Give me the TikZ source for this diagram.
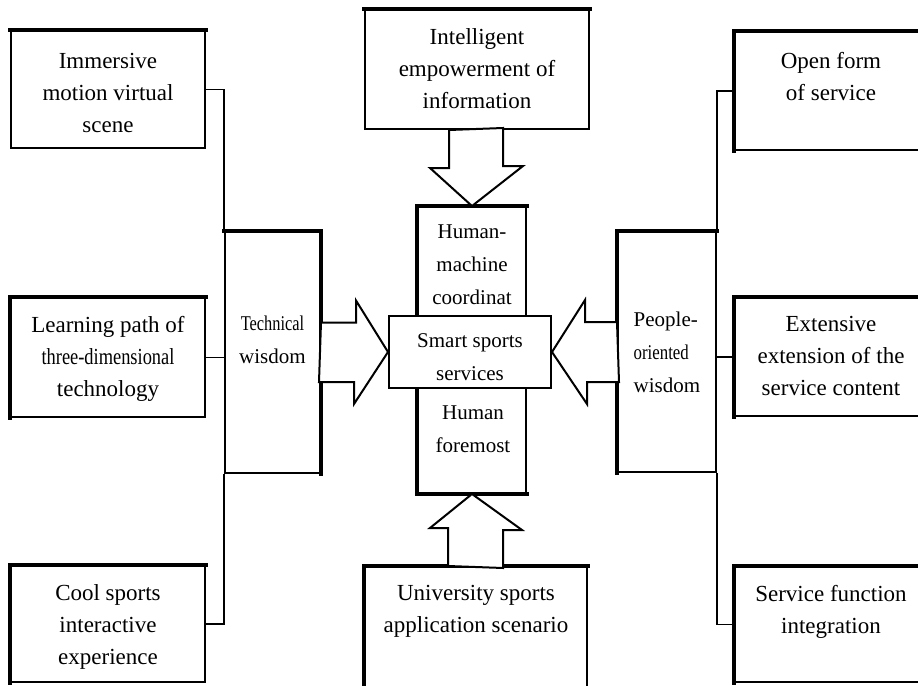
\documentclass[tikz,border=0pt]{standalone}
\usepackage{fontspec}
\setmainfont{Liberation Serif}

\tikzset{
	box/.style={draw, line width=1pt, fill=white, inner sep=0pt, align=center},
	inner/.style={font=\fontsize{10.5}{16.5}\selectfont},
	heavy/.style={line width=1.8pt, line cap=rect},
	link/.style={draw, line width=0.8pt},
	blockarrow/.style={draw, line width=1pt, fill=white, line join=miter}
}
% text of an outer box, set from the top
\newcommand{\boxtext}[3]{\parbox[c][#2][t]{#1}{\centering\vspace*{9pt}#3}}

\begin{document}
\begin{tikzpicture}[x=0.5pt, y=-0.5pt, font=\fontsize{11.5}{16}\selectfont]
	\useasboundingbox (0,0) rectangle (918,686);
	
	%left column
	\node[box, minimum width=97pt, minimum height=58.5pt] (imm) at (108,89.5)
		{\boxtext{94pt}{58pt}{\vspace*{2pt}Immersive\\motion virtual\\scene}};
	\node[box, minimum width=97pt, minimum height=59.5pt] (learn) at (108,357.5)
		{\boxtext{94pt}{59pt}{Learning path of\\\scalebox{0.8}[1]{three-dimensional}\\technology}};
	\node[box, minimum width=97pt, minimum height=58pt] (cool) at (108,624)
		{\boxtext{94pt}{57.5pt}{Cool sports\\interactive\\experience}};
	
	%top and bottom
	\node[box, minimum width=112pt, minimum height=59.5pt] (intel) at (477,69.5)
		{\boxtext{108pt}{59pt}{Intelligent\\empowerment of\\information}};
	\node[box, minimum width=111pt, minimum height=65pt] (univ) at (476,632)
		{\boxtext{108pt}{64.5pt}{University sports\\application scenario}};
	
	%right column
	\node[box, minimum width=96pt, minimum height=59pt] (open) at (831,91)
		{\boxtext{94pt}{58.5pt}{\vspace*{1pt}Open form\\of service}};
	\node[box, minimum width=96pt, minimum height=59pt] (ext) at (831,357)
		{\boxtext{94pt}{58.5pt}{Extensive\\extension of the\\service content}};
	\node[box, minimum width=96pt, minimum height=57.5pt] (serv) at (831,624.5)
		{\boxtext{94pt}{57pt}{Service function\\integration}};
	
	%middle
	\node[box, inner, minimum width=47.5pt, minimum height=120.5pt] (tech) at (272.5,352.5)
		{\scalebox{0.78}[1]{Technical}\\wisdom\\[-4pt]\mbox{}};
	\node[box, inner, align=left, minimum width=49pt, minimum height=120pt] (ppl) at (667,352)
		{People-\\\scalebox{0.8}[1]{oriented}\\wisdom};
	\node[box, minimum width=54pt, minimum height=143pt] (hum) at (472,350) {};
	\node[inner, align=center] (humtop) at (472,265) {Human-\\machine\\coordinat};
	\node[inner, align=center] (humbot) at (473,429) {Human\\foremost};
	
	\foreach \b in {imm,learn,cool,tech,intel,univ,open,ext,serv,ppl,hum}
		\draw[heavy] (\b.north west) -- (\b.north east);
	\foreach \b in {learn,cool,univ,open,ext,serv,ppl,hum}
		\draw[heavy] (\b.north west) -- (\b.south west);
	\draw[heavy] (tech.north east) -- (tech.south east);
	\draw[heavy] (hum.south west) -- (hum.south east);
	
	\node[box, minimum width=81pt, minimum height=36pt] (smart) at (470,352) {};
	\node[inner, align=center] (smarttext) at (470,357.5) {Smart sports\\services};
	
	%block arrows
	\draw[blockarrow] (tech.east) ++(0,-30) -- ++(35,0) -- ++(0,-22) -- (smart.west)
		-- ++(-34,52) -- ++(0,-22) -- ++(-35,0) -- cycle;
	\draw[blockarrow] (ppl.west) ++(0,-30) -- ++(-32,0) -- ++(0,-22) -- (smart.east)
		-- ++(35,52) -- ++(0,-22) -- ++(32,0) -- cycle;
	\draw[blockarrow] (intel.south) ++(-28,0) -- ++(0,38) -- ++(-19,0) -- (hum.north)
		-- ++(51,-40) -- ++(-20,0) -- ++(0,-38) -- cycle;
	\draw[blockarrow] (univ.north) ++(-28,0) -- ++(0,-38) -- ++(-18,0) -- (hum.south)
		-- ++(50,36) -- ++(-19,0) -- ++(0,38) -- cycle;
	
	%links
	\draw[link] (imm.east) -| (tech.north west);
	\draw[link] (learn.east) -- (learn.east -| tech.west);
	\draw[link] (cool.east) -| (tech.south west);
	\draw[link] (open.west) -| (ppl.north east);
	\draw[link] (ext.west) -- (ext.west -| ppl.east);
	\draw[link] (serv.west) -| (ppl.south east);
\end{tikzpicture}
\end{document}
